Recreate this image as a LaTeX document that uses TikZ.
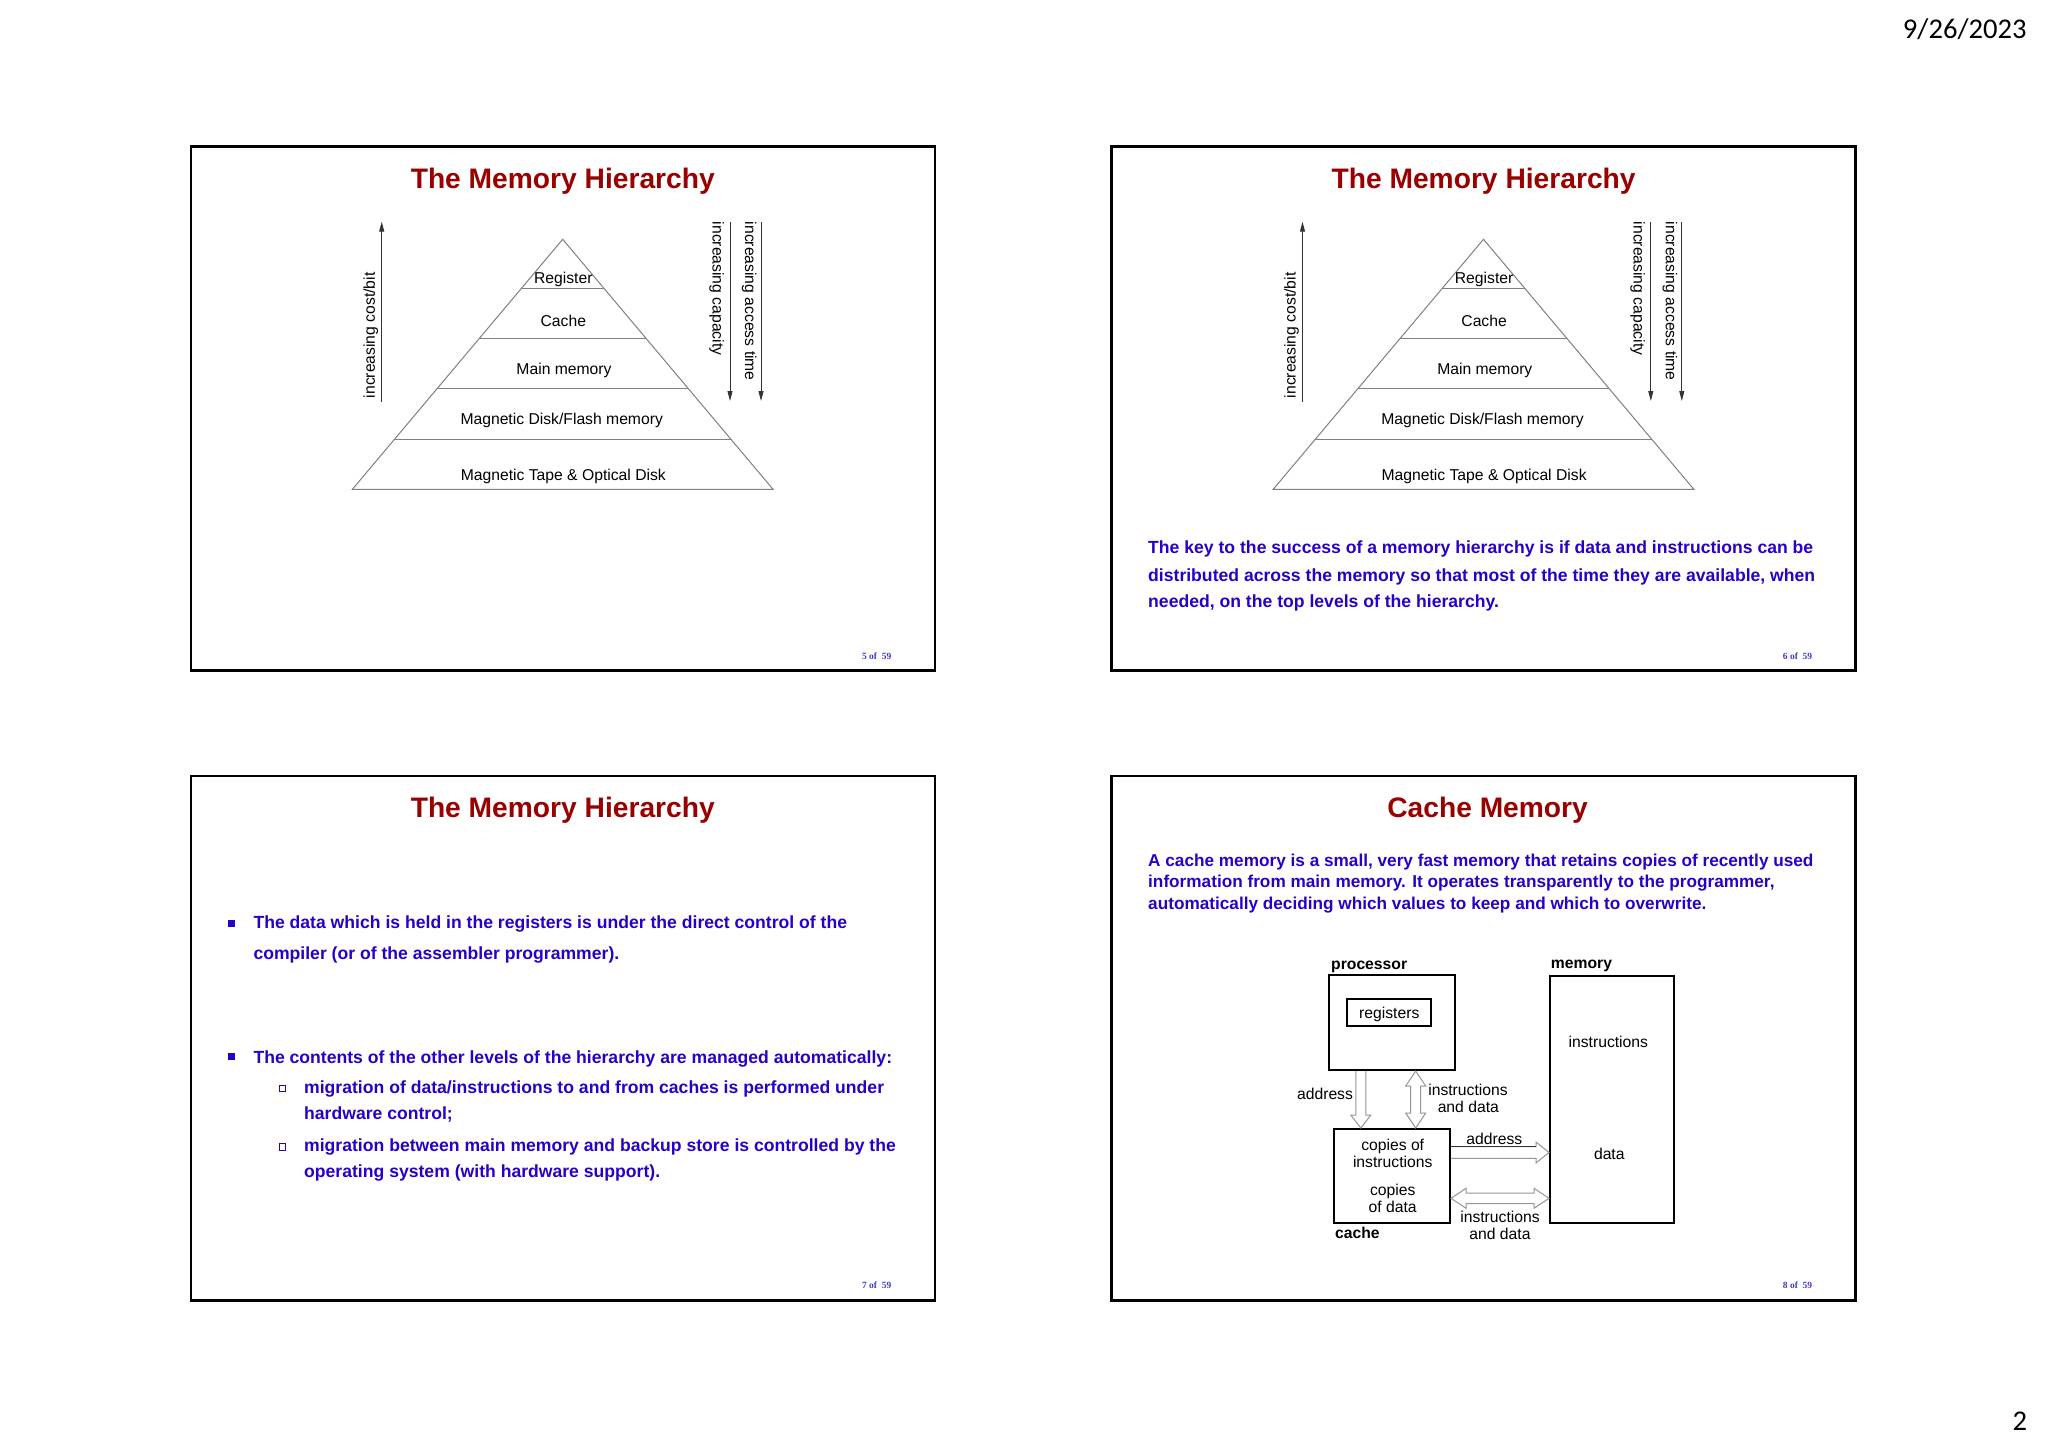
\documentclass[tikz,border=0pt]{standalone}
\usepackage{fontspec}
\setmainfont{Liberation Sans}
\newfontfamily\slidenofont{Liberation Serif}
\newfontfamily\pagefont{Carlito}
\usetikzlibrary{arrows.meta,calc}

\definecolor{titlered}{RGB}{153,0,0}
\definecolor{textblue}{RGB}{40,0,200}
\definecolor{noblue}{RGB}{60,60,200}
\definecolor{pyrgray}{RGB}{128,128,128}
\definecolor{arrgray}{RGB}{150,150,150}

\begin{document}
\begin{tikzpicture}[x=1pt,y=-1pt,
  slidetitle/.style={font=\fontsize{28.2}{34}\selectfont\bfseries,text=titlered,inner sep=0pt,text height=20.2pt,text depth=0pt},
  bodytext/.style={anchor=west,font=\fontsize{17.6}{21}\selectfont\bfseries,text=textblue,inner sep=0pt,text height=12.6pt,text depth=0pt},
  paratext/.style={bodytext,font=\fontsize{17.2}{21}\selectfont\bfseries,text height=12.3pt},
  lbl/.style={font=\fontsize{15.7}{18}\selectfont,inner sep=0pt,text height=11.2pt,text depth=0pt},
  blbl/.style={lbl,font=\fontsize{15.7}{18}\selectfont\bfseries,anchor=west},
  slideno/.style={font=\fontsize{9.5}{11}\slidenofont\bfseries,text=noblue,inner sep=0pt},
  pagetext/.style={anchor=east,font=\fontsize{28.6}{34}\pagefont,inner sep=0pt,text height=18pt,text depth=0pt},
  box/.style={draw,line width=2pt,inner sep=0pt},
  hollow/.style={draw=arrgray,line width=1pt,fill=white,line join=miter},
  layerline/.style={draw=pyrgray,line width=1pt},
  scalearrow/.style={draw=black!80,line width=0.9pt,-{Triangle[length=10pt,width=5pt]}}
]
\fill[white] (0,0) rectangle (2048,1447);
\useasboundingbox (0,0) rectangle (2048,1447);

% slide frames
\foreach \fx/\fy in {0/0,920.8/0,0/629.5,920.8/629.5}
  \draw[line width=2.6pt] (190.8+\fx,146.3+\fy) rectangle ++(744,524.4);

\node[pagetext] (date) at (2026.7,29.3) {9/26/2023};
\node[pagetext] (pageno) at (2027.3,1421) {2};

% titles
\node[slidetitle] (t1) at (562.8,178) {The Memory Hierarchy};
\node[slidetitle] (t2) at (1483.6,178) {The Memory Hierarchy};
\node[slidetitle] (t3) at (562.8,807.5) {The Memory Hierarchy};
\node[slidetitle] (t4) at (1487.6,807.5) {Cache Memory};

\node[slideno] (n5) at (876.7,655.7) {5 of\enspace 59};
\node[slideno] (n6) at (1797.5,655.7) {6 of\enspace 59};
\node[slideno] (n7) at (876.7,1285.2) {7 of\enspace 59};
\node[slideno] (n8) at (1797.5,1285.2) {8 of\enspace 59};

% pyramids, slides 5 and 6
\foreach \p/\dx in {a/0,b/920.8}{
\begin{scope}[xshift=\dx pt]
\coordinate (top\p) at (562.7,239.3);
\coordinate (bl\p) at (352.4,489.3);
\coordinate (br\p) at (773,489.3);
\draw[layerline] (top\p) -- (bl\p) -- (br\p) -- cycle;
\foreach \t in {0.196,0.395,0.596,0.799}
  \draw[layerline] ($(top\p)!\t!(bl\p)$) -- ($(top\p)!\t!(br\p)$);
\node[lbl] (reg\p) at (563.3,278.3) {Register};
\node[lbl] (cac\p) at (563.3,321) {Cache};
\node[lbl] (main\p) at (564,369) {Main memory};
\node[lbl] (disk\p) at (561.7,419.3) {Magnetic Disk/Flash memory};
\node[lbl] (tape\p) at (563.3,475) {Magnetic Tape \& Optical Disk};

\coordinate (costlo\p) at (381.7,401.7);
\coordinate (costhi\p) at (381.7,221.7);
\coordinate (caphi\p) at (730,221.7);
\coordinate (caplo\p) at (730,401);
\coordinate (acchi\p) at (761,221.7);
\coordinate (acclo\p) at (761,401);
\draw[scalearrow] (costlo\p) -- (costhi\p);
\draw[scalearrow] (caphi\p) -- (caplo\p);
\draw[scalearrow] (acchi\p) -- (acclo\p);
\node[lbl,rotate=90,anchor=west] (cost\p) at (369.3,398.3) {increasing cost/bit};
\node[lbl,rotate=-90,anchor=west] (cap\p) at (718.3,221.7) {increasing capacity};
\node[lbl,rotate=-90,anchor=west] (acc\p) at (750.7,221.7) {increasing access time};
\end{scope}}

% slide 6 text
\node[bodytext] (k1) at (1148,547.2) {The key to the success of a memory hierarchy is if data and instructions can be};
\node[bodytext] (k2) at (1148,574.7) {distributed across the memory so that most of the time they are available, when};
\node[bodytext] (k3) at (1148,600.8) {needed, on the top levels of the hierarchy.};

% slide 7 bullets
\fill[textblue] (228.4,920) rectangle ++(6.6,6.6);
\fill[textblue] (228.4,1053.4) rectangle ++(6.6,6.6);
\draw[textblue,line width=1pt] (279.7,1085.3) rectangle ++(6,6.5);
\draw[textblue,line width=1pt] (279.7,1143.6) rectangle ++(6,6.5);
\node[bodytext] (b1a) at (253.3,922.3) {The data which is held in the registers is under the direct control of the};
\node[bodytext] (b1b) at (253.3,953.3) {compiler (or of the assembler programmer).};
\node[bodytext] (b2) at (253.3,1056.7) {The contents of the other levels of the hierarchy are managed automatically:};
\node[bodytext] (s1a) at (304,1086.7) {migration of data/instructions to and from caches is performed under};
\node[bodytext] (s1b) at (304,1112.7) {hardware control;};
\node[bodytext] (s2a) at (304,1145) {migration between main memory and backup store is controlled by the};
\node[bodytext] (s2b) at (304,1171.6) {operating system (with hardware support).};

% slide 8 text
\node[paratext] (c1) at (1148,860.7) {A cache memory is a small, very fast memory that retains copies of recently used};
\node[paratext] (c2) at (1148,881.6) {information from main memory. It operates transparently to the programmer,};
\node[paratext] (c3) at (1148,903.8) {automatically deciding which values to keep and which to overwrite.};

% cache diagram
\node[box,minimum width=125.7pt,minimum height=95pt] (proc) at (1392.2,1022.5) {};
\node[box,lbl,minimum width=84pt,minimum height=26.7pt] (regs) at (1389.3,1012.7) {registers};
\node[box,minimum width=124pt,minimum height=247.3pt] (mem) at (1612,1099.7) {};
\node[box,minimum width=116pt,minimum height=94.3pt] (cache) at (1392,1176.2) {};
\node[blbl] (proclbl) at (1331,964) {processor};
\node[blbl] (memlbl) at (1550.7,963) {memory};
\node[blbl] (cachelbl) at (1335,1233) {cache};
\node[lbl] (minst) at (1608.3,1041.7) {instructions};
\node[lbl] (mdata) at (1609.3,1154.3) {data};
\node[lbl] (cp1) at (1392.7,1145) {copies of};
\node[lbl] (cp2) at (1392.7,1162.3) {instructions};
\node[lbl] (cp3) at (1392.7,1190) {copies};
\node[lbl] (cp4) at (1392.7,1207.3) {of data};

\coordinate (adtop) at (1360.8,0 |- proc.south);
\coordinate (adbot) at (1360.8,0 |- cache.north);
\draw[hollow] ($(adtop)+(-5,0)$) -- ($(adbot)+(-5,-13)$) -- ($(adbot)+(-10,-13)$) -- (adbot)
  -- ($(adbot)+(10,-13)$) -- ($(adbot)+(5,-13)$) -- ($(adtop)+(5,0)$);

\coordinate (idtop) at (1415.7,0 |- proc.south);
\coordinate (idbot) at (1415.7,0 |- cache.north);
\draw[hollow] (idtop) -- ++(10,15) -- ++(-5,0) -- ($(idbot)+(5,-15)$) -- ++(5,0) -- (idbot)
  -- ++(-10,-15) -- ++(5,0) -- ($(idtop)+(-5,15)$) -- ++(-5,0) -- cycle;

\coordinate (raL) at (cache.east |- 0,1152.5);
\coordinate (raR) at (mem.west |- 0,1152.5);
\draw[hollow] ($(raL)+(0,-5.8)$) -- ($(raR)+(-13,-5.8)$) -- ($(raR)+(-13,-10.5)$) -- (raR)
  -- ($(raR)+(-13,10.5)$) -- ($(raR)+(-13,5.8)$) -- ($(raL)+(0,5.8)$);
\draw[black!80,line width=1pt] ($(raL)+(0,-5.8)$) -- ($(raR)+(-13,-5.8)$);

\coordinate (hdL) at (cache.east |- 0,1198.3);
\coordinate (hdR) at (mem.west |- 0,1198.3);
\draw[hollow] (hdL) -- ++(15,-10) -- ++(0,4.7) -- ($(hdR)+(-15,-5.3)$) -- ++(0,-4.7) -- (hdR)
  -- ++(-15,10) -- ++(0,-4.7) -- ($(hdL)+(15,5.3)$) -- ++(0,4.7) -- cycle;

\node[lbl] (adlbl) at (1325,1094.3) {address};
\node[lbl] (idlbl1) at (1468,1090) {instructions};
\node[lbl] (idlbl2) at (1468.3,1106.7) {and data};
\node[lbl] (ralbl) at (1494.3,1139) {address};
\node[lbl] (hdlbl1) at (1500,1216.7) {instructions};
\node[lbl] (hdlbl2) at (1500,1234) {and data};
\end{tikzpicture}
\end{document}
